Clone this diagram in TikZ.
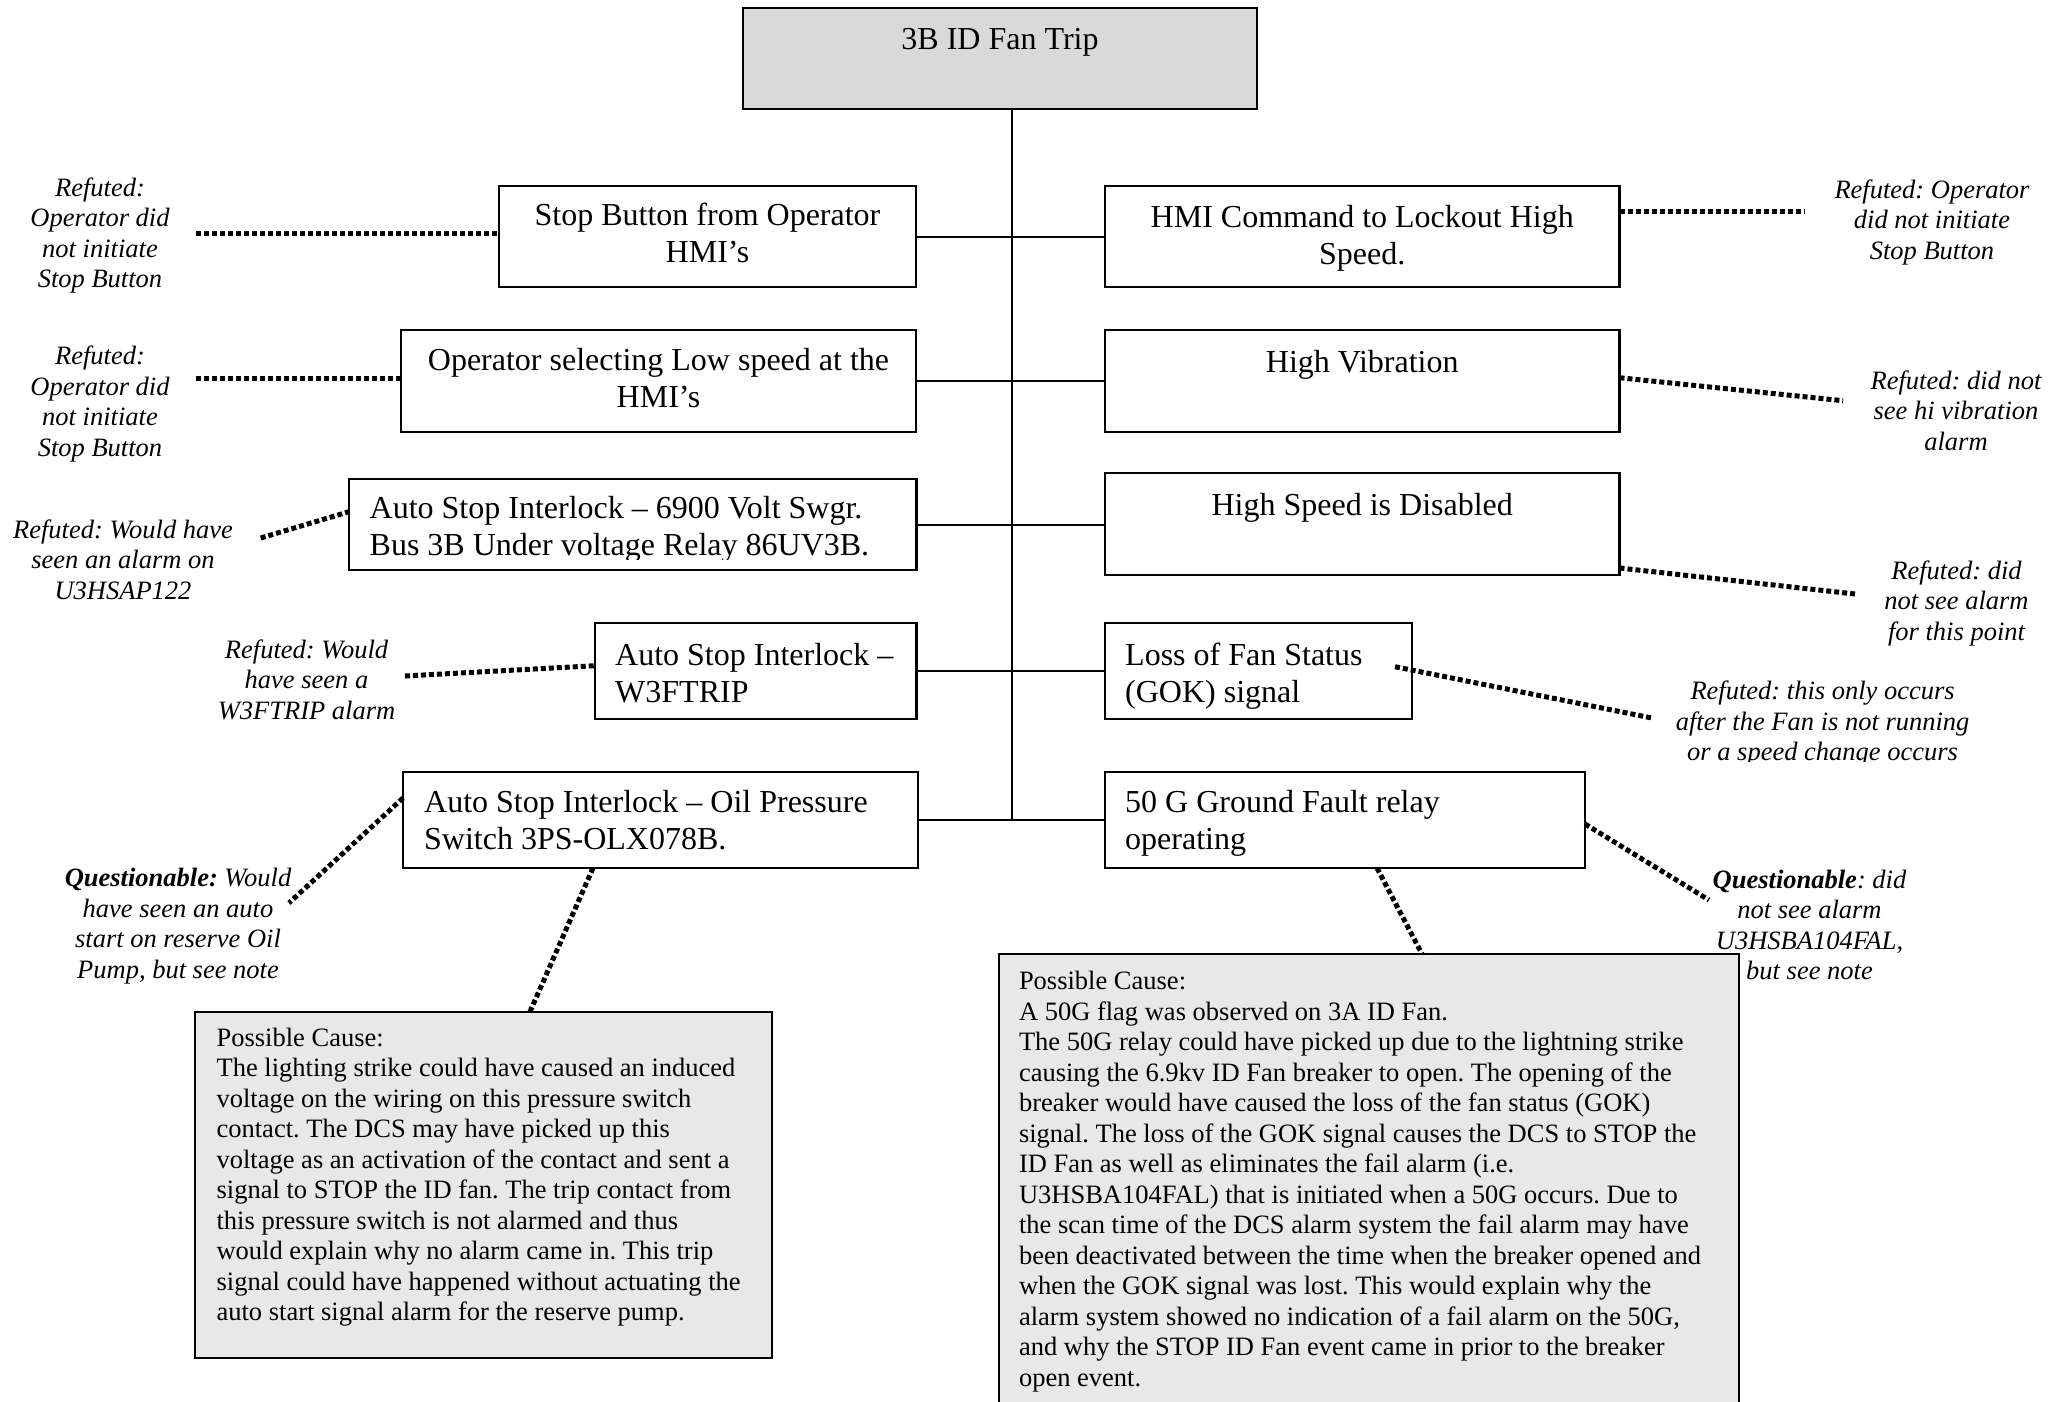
\documentclass[tikz,border=0pt]{standalone}
\usepackage{fontspec}
\setmainfont{Liberation Serif}
\usetikzlibrary{calc}
\definecolor{topgray}{RGB}{217,217,217}
\definecolor{pcgray}{RGB}{232,232,232}
\frenchspacing
\begin{document}
\frenchspacing
\begin{tikzpicture}[x=1pt,y=-1pt,
  box/.style={draw, line width=2.2pt, rectangle, inner sep=0pt, outer sep=0pt},
  txt/.style={inner sep=0pt, font=\fontsize{32}{37}\selectfont\frenchspacing},
  note/.style={inner sep=0pt, font=\fontsize{26.5}{30.5}\selectfont\itshape\frenchspacing, align=center},
  pctxt/.style={inner sep=0pt, font=\fontsize{26.5}{30.5}\selectfont\frenchspacing, align=left, anchor=north west},
  dots/.style={line width=5pt, dash pattern=on 5pt off 3pt},
  conn/.style={line width=2pt}]
\useasboundingbox (0,0) rectangle (2059,1401);

% top event
\node[box, fill=topgray, minimum width=514pt, minimum height=101pt] (top) at (1000,58.5) {};
\node[txt, anchor=north] (topt) at ([yshift=-15pt]top.north) {\strut 3B ID Fan Trip};

% left boxes
\node[box, minimum width=417pt, minimum height=101pt] (L1) at (707.5,236.5) {};
\node[box, minimum width=515pt, minimum height=102pt] (L2) at (658.5,381) {};
\node[box, minimum width=567.5pt, minimum height=91pt] (L3) at (632.75,524.5) {};
\node[box, minimum width=321.5pt, minimum height=96pt] (L4) at (755.75,671) {};
\node[box, minimum width=515pt, minimum height=96pt] (L5) at (660.5,820) {};

% right boxes
\node[box, minimum width=514.5pt, minimum height=101pt] (R1) at (1362.25,236.5) {};
\node[box, minimum width=514.5pt, minimum height=102pt] (R2) at (1362.25,381) {};
\node[box, minimum width=514.5pt, minimum height=102pt] (R3) at (1362.25,524) {};
\node[box, minimum width=307pt, minimum height=96pt] (R4) at (1258.5,671) {};
\node[box, minimum width=480pt, minimum height=96pt] (R5) at (1345,820) {};

% box texts
\node[txt, anchor=north, align=center] (L1t) at ([yshift=-13pt]L1.north) {\strut Stop Button from Operator\\HMI’s};
\node[txt, anchor=north, align=center] (L2t) at ([yshift=-14pt]L2.north) {\strut Operator selecting Low speed at the\\HMI’s};
\begin{scope}
\clip (349,479) rectangle (916.5,559);
\node[txt, anchor=north west, align=left] (L3t) at ([xshift=20.5pt,yshift=-13pt]L3.north west) {\strut Auto Stop Interlock – 6900 Volt Swgr.\\Bus 3B Under voltage Relay 86UV3B.};
\end{scope}
\node[txt, anchor=north west, align=left] (L4t) at ([xshift=20pt,yshift=-16pt]L4.north west) {\strut Auto Stop Interlock –\\W3FTRIP};
\node[txt, anchor=north west, align=left] (L5t) at ([xshift=21pt,yshift=-14pt]L5.north west) {\strut Auto Stop Interlock – Oil Pressure\\Switch 3PS-OLX078B.};

\node[txt, anchor=north, align=center] (R1t) at ([yshift=-15pt]R1.north) {\strut HMI Command to Lockout High\\Speed.};
\node[txt, anchor=north] (R2t) at ([yshift=-16pt]R2.north) {\strut High Vibration};
\node[txt, anchor=north] (R3t) at ([yshift=-16pt]R3.north) {\strut High Speed is Disabled};
\node[txt, anchor=north west, align=left] (R4t) at ([xshift=20pt,yshift=-16pt]R4.north west) {\strut Loss of Fan Status\\(GOK) signal};
\node[txt, anchor=north west, align=left] (R5t) at ([xshift=20pt,yshift=-14pt]R5.north west) {\strut 50 G Ground Fault relay\\operating};

% trunk and branches
\coordinate (trtop) at ([xshift=11.6pt]top.south);
\draw[conn] (trtop) -- (trtop |- L5.east);
\draw[conn] (L1.east) -- (R1.west);
\draw[conn] (L2.east) -- (R2.west);
\draw[conn] (L3.east) -- (L3.east -| R3.west);
\draw[conn] (L4.east) -- (R4.west);
\draw[conn] (L5.east) -- (R5.west);

% possible cause boxes
\node[box, fill=pcgray, minimum width=577pt, minimum height=346pt] (PC1) at (483.5,1184.7) {};
\node[pctxt] (PC1t) at (216.4,1024.6) {\strut Possible Cause:\\
The lighting strike could have caused an induced\\
voltage on the wiring on this pressure switch\\
contact. The DCS may have picked up this\\
voltage as an activation of the contact and sent a\\
signal to STOP the ID fan. The trip contact from\\
this pressure switch is not alarmed and thus\\
would explain why no alarm came in. This trip\\
signal could have happened without actuating the\\
auto start signal alarm for the reserve pump.};

\node[box, fill=pcgray, minimum width=739.6pt, minimum height=466pt] (PC2) at (1368.8,1187) {};
\node[pctxt] (PC2t) at (1018.8,968.3) {\strut Possible Cause:\\
A 50G flag was observed on 3A ID Fan.\\
The 50G relay could have picked up due to the lightning strike\\
causing the 6.9kv ID Fan breaker to open. The opening of the\\
breaker would have caused the loss of the fan status (GOK)\\
signal. The loss of the GOK signal causes the DCS to STOP the\\
ID Fan as well as eliminates the fail alarm (i.e.\\
U3HSBA104FAL) that is initiated when a 50G occurs. Due to\\
the scan time of the DCS alarm system the fail alarm may have\\
been deactivated between the time when the breaker opened and\\
when the GOK signal was lost. This would explain why the\\
alarm system showed no indication of a fail alarm on the 50G,\\
and why the STOP ID Fan event came in prior to the breaker\\
open event.};

% annotations
\node[note, anchor=north] (A1) at (100,174.6) {\strut Refuted:\\Operator did\\not initiate\\Stop Button};
\node[note, anchor=north] (A2) at (100,343.3) {\strut Refuted:\\Operator did\\not initiate\\Stop Button};
\node[note, anchor=north] (A3) at (123,516.7) {\strut Refuted: Would have\\seen an alarm on\\U3HSAP122};
\node[note, anchor=north] (A4) at (306.5,636.7) {\strut Refuted: Would\\have seen a\\W3FTRIP alarm};
\node[note, anchor=north] (A5) at (178,865) {\strut\textbf{Questionable:} Would\\have seen an auto\\start on reserve Oil\\Pump, but see note};

\node[note, anchor=north] (B1) at (1932,176.7) {\strut Refuted: Operator\\did not initiate\\Stop Button};
\node[note, anchor=north] (B2) at (1956,367.7) {\strut Refuted: did not\\see hi vibration\\alarm};
\node[note, anchor=north] (B3) at (1956.5,557.7) {\strut Refuted: did\\not see alarm\\for this point};
\begin{scope}
\clip (1660,660) rectangle (2000,761);
\node[note, anchor=north] (B4) at (1822.6,678.3) {\strut Refuted: this only occurs\\after the Fan is not running\\or a speed change occurs};
\end{scope}
\node[note, anchor=north] (B5) at (1809.5,866.7) {\strut\textbf{Questionable}: did\\not see alarm\\U3HSBA104FAL,\\but see note};

% dotted connectors
\coordinate (A1e) at (196,233);
\coordinate (A2e) at (196,378);
\coordinate (A3e) at (260.7,538);
\coordinate (A4e) at (405,676);
\coordinate (A5e) at (289,903);
\coordinate (B1e) at (1804,211);
\coordinate (B2e) at (1843,400.7);
\coordinate (B3e) at (1855,594);
\coordinate (B4e) at (1652,718);
\coordinate (B5e) at (1709,900);
\draw[dots] (A1e) -- (A1e -| L1.west);
\draw[dots] (A2e) -- (A2e -| L2.west);
\draw[dots] (A3e) -- ([yshift=12.8pt]L3.west);
\draw[dots] (A4e) -- ([yshift=5.3pt]L4.west);
\draw[dots] ([yshift=22pt]L5.west) -- (A5e);
\draw[dots] ([xshift=-67.5pt]L5.south) -- ([xshift=46.5pt]PC1.north);
\draw[dots] ([yshift=25.5pt]R1.east) -- (B1e);
\draw[dots] ([yshift=3.3pt]R2.east) -- (B2e);
\draw[dots] ([yshift=-44pt]R3.east) -- (B3e);
\draw[dots] ([xshift=-17pt,yshift=4.3pt]R4.east) -- (B4e);
\draw[dots] ([yshift=-4pt]R5.east) -- (B5e);
\draw[dots] ([xshift=32pt]R5.south) -- ([xshift=53.2pt]PC2.north);
\end{tikzpicture}
\end{document}
